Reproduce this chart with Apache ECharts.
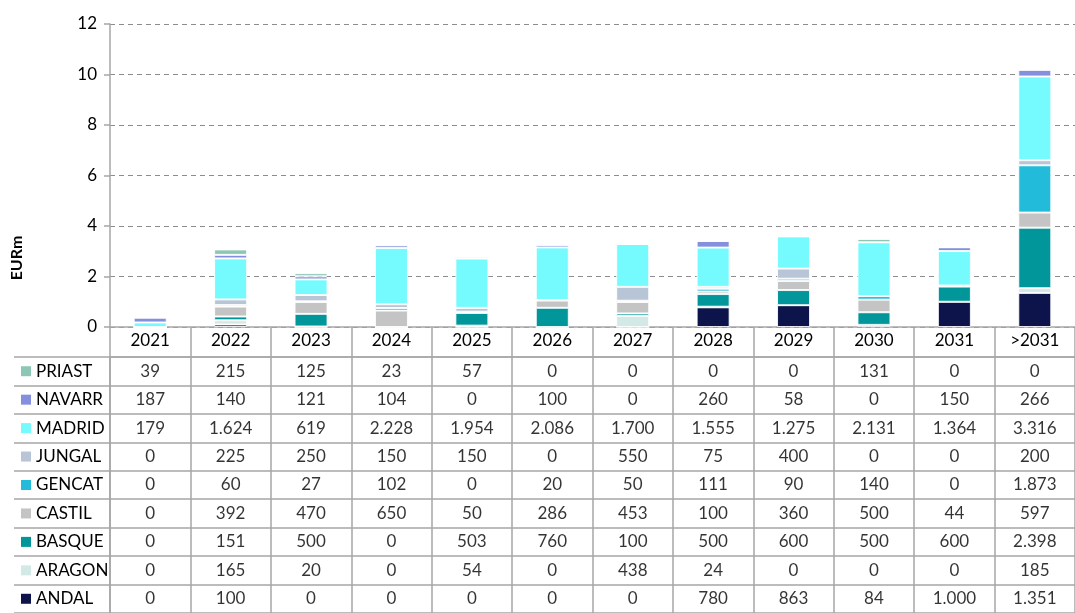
<!DOCTYPE html>
<html>
<head>
<meta charset="utf-8">
<script src="https://cdn.jsdelivr.net/npm/echarts@6/dist/echarts.min.js"></script>
<style>
  html, body { margin: 0; padding: 0; background: #fff; }
  #main { width: 1075px; height: 613px; }
</style>
</head>
<body>
<div id="main"></div>
<script>
// categories (columns)
const years = ['2021', '2022', '2023', '2024', '2025', '2026', '2027', '2028', '2029', '2030', '2031', '>2031'];

// values in EUR thousands
const PRIAST = [39, 215, 125, 23, 57, 0, 0, 0, 0, 131, 0, 0];
const NAVARR = [187, 140, 121, 104, 0, 100, 0, 260, 58, 0, 150, 266];
const MADRID = [179, 1624, 619, 2228, 1954, 2086, 1700, 1555, 1275, 2131, 1364, 3316];
const JUNGAL = [0, 225, 250, 150, 150, 0, 550, 75, 400, 0, 0, 200];
const GENCAT = [0, 60, 27, 102, 0, 20, 50, 111, 90, 140, 0, 1873];
const CASTIL = [0, 392, 470, 650, 50, 286, 453, 100, 360, 500, 44, 597];
const BASQUE = [0, 151, 500, 0, 503, 760, 100, 500, 600, 500, 600, 2398];
const ARAGON = [0, 165, 20, 0, 54, 0, 438, 24, 0, 0, 0, 185];
const ANDAL = [0, 100, 0, 0, 0, 0, 0, 780, 863, 84, 1000, 1351];

// table rows, top to bottom
const rowNames = ['PRIAST', 'NAVARR', 'MADRID', 'JUNGAL', 'GENCAT', 'CASTIL', 'BASQUE', 'ARAGON', 'ANDAL'];
const rowData = [PRIAST, NAVARR, MADRID, JUNGAL, GENCAT, CASTIL, BASQUE, ARAGON, ANDAL];
const rowColors = ['#8cc7b5', '#8490dd', '#75fbfd', '#b7c5d6', '#22bbd9', '#c4c4c4', '#00969a', '#d2e9e5', '#0d144b'];

const yTicks = { min: 0, max: 12, interval: 2 };

const FONT = 'Lato';
const FS = 17;
const lineCol = '#a6a6a6';

function fmt(n) {
  if (n < 1000) return String(n);
  const r = n % 1000;
  return Math.floor(n / 1000) + '.' + String(r).padStart(3, '0');
}

// stacked bars, bottom first (ANDAL) to top (PRIAST)
const barSeries = [];
for (let j = rowNames.length - 1; j >= 0; j--) {
  barSeries.push({
    name: rowNames[j],
    type: 'bar',
    stack: 'total',
    xAxisIndex: 0,
    yAxisIndex: 0,
    barWidth: 33,
    itemStyle: { color: rowColors[j], borderColor: 'rgba(255,255,255,0.85)', borderWidth: 1 },
    data: rowData[j].map(v => v / 1000)
  });
}

// table cells as labels on the lower grid
const cellData = [];
rowData.forEach((arr, j) => {
  arr.forEach((v, i) => cellData.push([i, j, v]));
});

const rich = {};
rowNames.forEach((n, j) => {
  rich['m' + j] = { backgroundColor: rowColors[j], width: 10, height: 10 };
});
rich.t = { fontFamily: FONT, fontSize: FS, color: '#000', padding: [0, 0, 0, 5] };

let chart = echarts.init(document.getElementById('main'), null, { renderer: 'canvas' });

let option = {
  animation: false,
  backgroundColor: '#fff',
  textStyle: { fontFamily: FONT },
  grid: [
    { left: 110, top: 24, width: 974, height: 303 },
    { left: 110, top: 357, width: 974, height: 262 }
  ],
  xAxis: [
    {
      type: 'category',
      gridIndex: 0,
      data: years,
      axisLine: { lineStyle: { color: lineCol, width: 1.5 } },
      axisTick: { show: true, length: 30, lineStyle: { color: lineCol, width: 1.5 } },
      axisLabel: { interval: 0, margin: 5, fontFamily: FONT, fontSize: FS, color: '#000' },
      splitLine: { show: false }
    },
    {
      type: 'category',
      gridIndex: 1,
      position: 'top',
      data: years,
      axisLine: { lineStyle: { color: lineCol, width: 1.5 } },
      axisTick: { show: false },
      axisLabel: { show: false },
      splitLine: { show: true, interval: 0, lineStyle: { color: lineCol, width: 1.5 } }
    }
  ],
  yAxis: [
    {
      type: 'value',
      gridIndex: 0,
      min: yTicks.min,
      max: yTicks.max,
      interval: yTicks.interval,
      axisLine: { show: true, lineStyle: { color: lineCol, width: 1.5 } },
      axisTick: { show: true, length: 6, lineStyle: { color: lineCol, width: 1.5 } },
      axisLabel: { margin: 13, fontFamily: FONT, fontSize: FS, color: '#000' },
      splitLine: { show: true, lineStyle: { color: '#8c8c8c', type: [5, 4], width: 1 } }
    },
    {
      type: 'category',
      gridIndex: 1,
      inverse: true,
      data: rowNames,
      axisLine: { show: true, lineStyle: { color: lineCol, width: 1.5 } },
      axisTick: { show: true, length: 96, lineStyle: { color: lineCol, width: 1.5 } },
      axisLabel: {
        interval: 0,
        margin: 89,
        align: 'left',
        formatter: (v, j) => '{m' + j + '|}{t|' + v + '}',
        rich: rich
      },
      splitLine: { show: true, interval: 0, lineStyle: { color: lineCol, width: 1.5 } }
    },
    {
      type: 'category',
      gridIndex: 1,
      inverse: true,
      data: rowNames,
      offset: 96,
      axisLine: { show: true, lineStyle: { color: lineCol, width: 1.5 } },
      axisTick: { show: false },
      axisLabel: { show: false },
      splitLine: { show: false }
    }
  ],
  graphic: [
    {
      type: 'text',
      x: 17,
      y: 258,
      rotation: Math.PI / 2,
      style: {
        text: 'EURm',
        font: 'bold 16px ' + FONT,
        fill: '#000',
        align: 'center',
        verticalAlign: 'middle'
      }
    }
  ],
  series: barSeries.concat([
    {
      type: 'scatter',
      xAxisIndex: 1,
      yAxisIndex: 1,
      symbolSize: 1,
      itemStyle: { color: 'rgba(0,0,0,0)' },
      label: {
        show: true,
        position: 'inside',
        fontFamily: FONT,
        fontSize: FS,
        color: '#000',
        formatter: p => fmt(p.value[2])
      },
      data: cellData
    }
  ])
};

chart.setOption(option);
</script>
</body>
</html>
